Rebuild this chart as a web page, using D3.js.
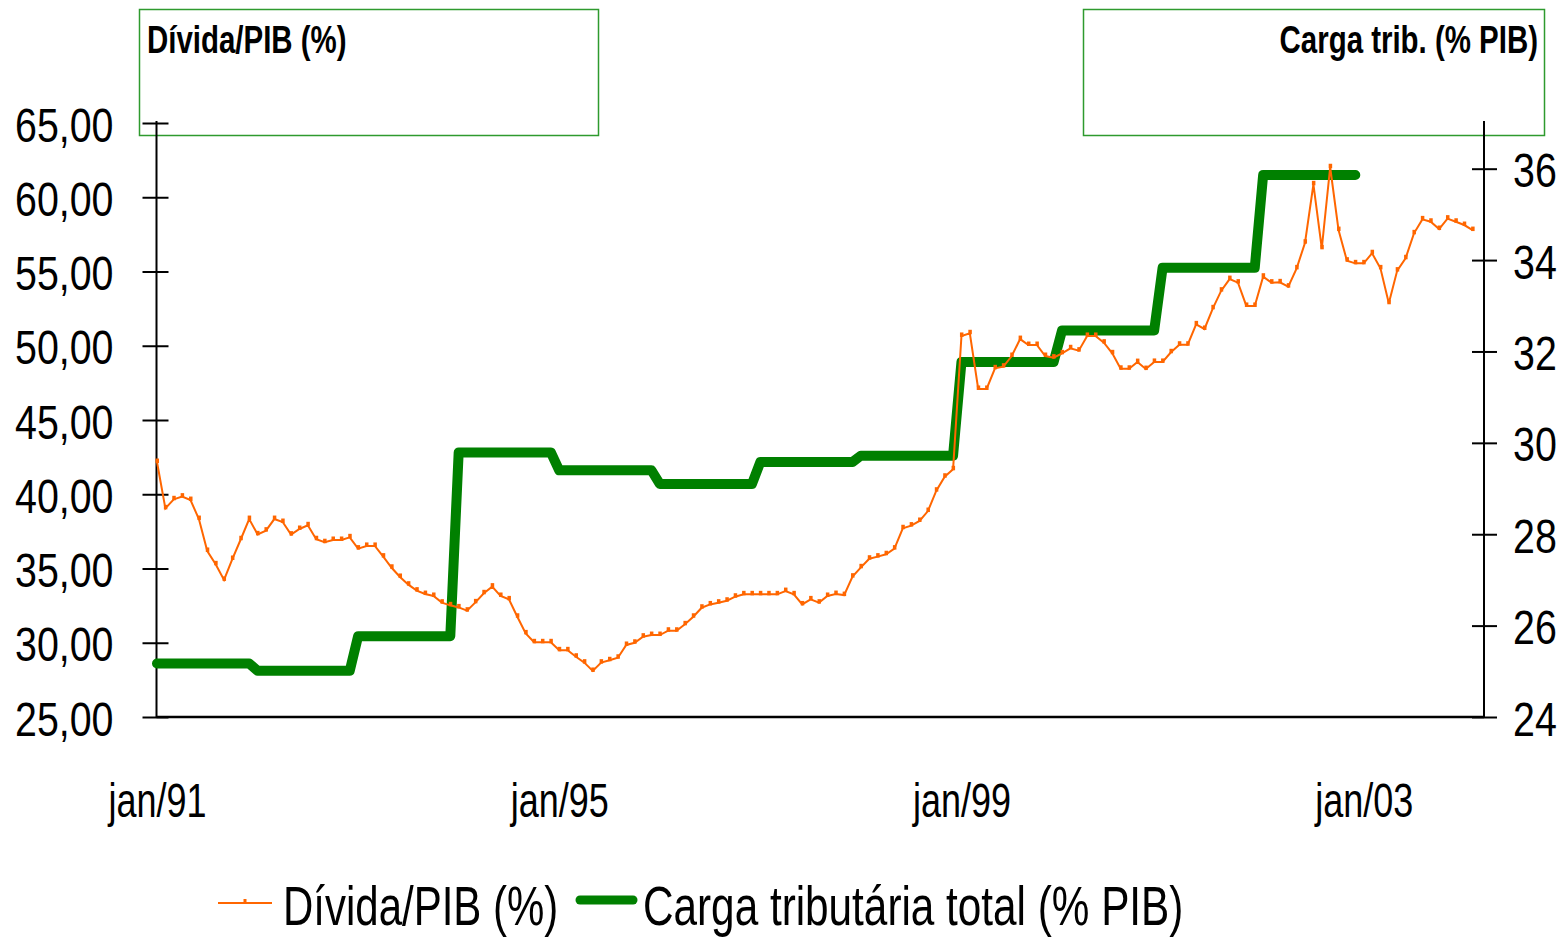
<!DOCTYPE html>
<html><head><meta charset="utf-8">
<script src="https://cdn.jsdelivr.net/npm/d3@7"></script>
<style>
html,body{margin:0;padding:0;background:#fff;}
svg{display:block;font-family:"Liberation Sans",Arial,sans-serif;}
</style></head>
<body>
<svg id="c" width="1565" height="937"></svg>
<script>
// ---- DATA ----
// Monthly debt/GDP (%), jan/91 .. feb/04
const dividaPIB = [
42.17,39.05,39.66,39.84,39.61,38.33,36.18,35.28,34.23,35.64,36.97,38.33,
37.30,37.55,38.33,38.13,37.28,37.66,37.91,36.97,36.77,36.92,36.92,37.10,
36.34,36.52,36.52,35.80,35.05,34.43,33.91,33.51,33.28,33.15,32.70,32.52,
32.38,32.16,32.72,33.33,33.78,33.15,32.92,31.75,30.63,30.03,30.03,30.03,
29.49,29.49,29.06,28.66,28.10,28.66,28.82,28.99,29.85,30.00,30.41,30.52,
30.52,30.81,30.81,31.24,31.75,32.36,32.58,32.70,32.83,33.10,33.26,33.26,
33.26,33.26,33.26,33.48,33.26,32.58,32.92,32.70,33.15,33.28,33.21,34.45,
35.08,35.66,35.80,35.96,36.34,37.71,37.89,38.20,38.87,40.24,41.18,41.68,
50.66,50.84,47.09,47.09,48.48,48.59,49.31,50.45,50.05,50.05,49.31,49.20,
49.49,49.83,49.67,50.66,50.66,50.21,49.49,48.45,48.45,48.90,48.43,48.91,
48.91,49.56,50.07,50.07,51.44,51.13,52.52,53.71,54.49,54.25,52.68,52.68,
54.65,54.25,54.27,53.98,55.21,56.94,60.87,56.56,62.02,57.79,55.73,55.55,
55.55,56.23,55.21,52.86,55.06,55.89,57.57,58.51,58.35,57.86,58.56,58.35,
58.13,57.79
];
// Annual total tax burden (% GDP), 1991..2002 (constant within each year)
const anos = [1991,1992,1993,1994,1995,1996,1997,1998,1999,2000,2001,2002];
const cargaTributaria = [25.17,25.01,25.77,29.79,29.40,29.10,29.58,29.72,31.77,32.46,33.83,35.86];
const nMeses = 159; // jan/91 .. mar/04 categories
const xTickIdx = [0,48,96,144];
const xTickLabels = ["jan/91","jan/95","jan/99","jan/03"];
const yLeftTicks = [25,30,35,40,45,50,55,60,65];
const yRightTicks = [24,26,28,30,32,34,36];
const serieNomes = ["Dívida/PIB (%)","Carga tributária total (% PIB)"];
const tituloEsq = "Dívida/PIB (%)";
const tituloDir = "Carga trib. (% PIB)";

// ---- CHART ----
const svg = d3.select("#c");
const L = 156.5, R = 1484, T = 123, B = 717;
const x = d3.scaleLinear().domain([0, nMeses-1]).range([157, 1481]);
const yL = d3.scaleLinear().domain([25,65]).range([B,T]);
const yR = d3.scaleLinear().domain([24,37]).range([B,T]);

const cargaMensal = [];
cargaTributaria.forEach((v)=>{ for(let m=0;m<12;m++) cargaMensal.push(v); });

function stext(g, str, px, py, size, sx, anchor, weight){
  return g.append("text").text(str)
    .attr("transform",`translate(${px},${py}) scale(${sx},1)`)
    .attr("font-size",size).attr("text-anchor",anchor||"start")
    .attr("font-weight",weight||"normal").attr("fill","#000");
}

// title boxes
svg.append("rect").attr("x",139.5).attr("y",9.5).attr("width",459).attr("height",126)
  .attr("fill","none").attr("stroke","#2e9a2e").attr("stroke-width",1.5);
svg.append("rect").attr("x",1083.5).attr("y",9.5).attr("width",461).attr("height",126)
  .attr("fill","none").attr("stroke","#2e9a2e").attr("stroke-width",1.5);
stext(svg, tituloEsq, 147, 53, 39, 0.755, "start", "bold");
stext(svg, tituloDir, 1538, 53, 39, 0.755, "end", "bold");

// left axis
const gL = svg.append("g").attr("transform",`translate(${L},0)`)
  .call(d3.axisLeft(yL).tickValues(yLeftTicks).tickSize(14).tickFormat(d=>d.toFixed(2).replace(".",",")));
gL.select(".domain").attr("stroke","#000").attr("stroke-width",2).attr("d",`M0,${T-2}V${B}`);
gL.selectAll(".tick line").attr("x1",12).attr("x2",-14).attr("stroke","#000").attr("stroke-width",2);
gL.selectAll(".tick text").attr("x",null).attr("dy",null).attr("font-family",null)
  .attr("transform","translate(-43,18) scale(0.82,1)").attr("font-size",48).attr("fill","#000").attr("text-anchor","end");

// right axis
const gR = svg.append("g").attr("transform",`translate(${R},0)`)
  .call(d3.axisRight(yR).tickValues(yRightTicks).tickSize(13).tickFormat(d3.format("d")));
gR.select(".domain").attr("stroke","#000").attr("stroke-width",2).attr("d",`M0,${T-2}V${B}`);
gR.selectAll(".tick line").attr("x1",-12).attr("x2",13).attr("stroke","#000").attr("stroke-width",2);
gR.selectAll(".tick text").attr("x",null).attr("dy",null)
  .attr("transform","translate(29,18) scale(0.82,1)").attr("font-size",48).attr("fill","#000").attr("text-anchor","start");

// bottom axis
const gB = svg.append("g").attr("transform",`translate(0,${B})`)
  .call(d3.axisBottom(x).tickValues(xTickIdx).tickSize(0).tickFormat((d,i)=>xTickLabels[i]));
gB.select(".domain").attr("stroke","#000").attr("stroke-width",2.5).attr("d",`M${L},0H${R}`);
gB.selectAll(".tick text").attr("y",null).attr("dy",null)
  .attr("transform","translate(0,100) scale(0.75,1)").attr("font-size",48).attr("fill","#000").attr("text-anchor","middle");

// green step series
const lineR = d3.line().x((d,i)=>x(i)).y(d=>yR(d));
svg.append("path").datum(cargaMensal).attr("d",lineR)
  .attr("fill","none").attr("stroke","#008000").attr("stroke-width",10)
  .attr("stroke-linejoin","round").attr("stroke-linecap","round");

// orange series
const lineL = d3.line().x((d,i)=>x(i)).y(d=>yL(d));
svg.append("path").datum(dividaPIB).attr("d",lineL)
  .attr("fill","none").attr("stroke","#ff6600").attr("stroke-width",2);
svg.append("g").selectAll("rect").data(dividaPIB).join("rect")
  .attr("x",(d,i)=>x(i)-1.5).attr("y",d=>yL(d)-3.5).attr("width",3.5).attr("height",4.5)
  .attr("fill","#ff6600");

// legend
const lg = svg.append("g");
lg.append("line").attr("x1",218).attr("x2",272).attr("y1",903).attr("y2",903)
  .attr("stroke","#ff6600").attr("stroke-width",2);
lg.append("rect").attr("x",243.5).attr("y",899).attr("width",3).attr("height",4).attr("fill","#ff6600");
stext(lg, serieNomes[0], 283, 925, 56, 0.75, "start");
lg.append("line").attr("x1",580).attr("x2",633).attr("y1",900).attr("y2",900)
  .attr("stroke","#008000").attr("stroke-width",9).attr("stroke-linecap","round");
stext(lg, serieNomes[1], 643, 925, 56, 0.755, "start");
</script>
</body></html>
